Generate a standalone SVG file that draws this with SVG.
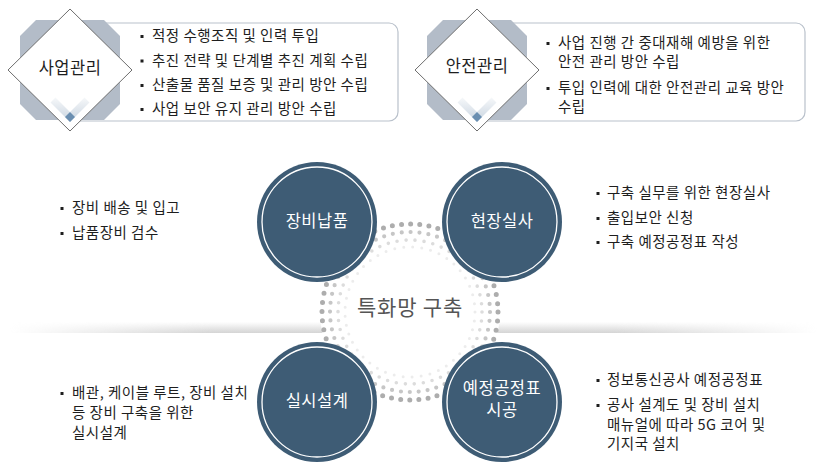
<svg xmlns="http://www.w3.org/2000/svg" width="827" height="474" viewBox="0 0 827 474">
<defs>
<style>
.t{font-family:"Noto Sans CJK KR","Noto Sans",sans-serif;font-size:14.5px;letter-spacing:0.5px;fill:#1e1e1e}
.lbl{font-family:"Noto Sans CJK KR","Noto Sans",sans-serif;font-size:16.5px;letter-spacing:0.5px;fill:#1e1e1e;text-anchor:middle}
.cl{font-family:"Noto Sans CJK KR","Noto Sans",sans-serif;font-size:16.5px;letter-spacing:0.5px;fill:#ffffff;text-anchor:middle}
.box{fill:#ffffff;stroke:#b9c1cb;stroke-width:1.2}
.oct{fill:#b3bcc8}
.dia{fill:#ffffff;stroke:#6e6e6e;stroke-width:1}
.vdec{fill:none;stroke:url(#vg);stroke-width:7}
.mini{fill:#6b8fb1}
.b{fill:#1e1e1e}
.node{fill:#3e5c75}
.ring{fill:none;stroke:#ffffff;stroke-width:1.3}
.dots{fill:none;stroke-linecap:round}
</style>
<linearGradient id="vg" gradientUnits="userSpaceOnUse" x1="0" y1="28" x2="0" y2="48">
<stop offset="0" stop-color="#f5f7f9"/>
<stop offset="1" stop-color="#d0dae4"/>
</linearGradient>
<linearGradient id="shV" x1="0" y1="0" x2="0" y2="1">
<stop offset="0" stop-color="#d4d4d4" stop-opacity="0"/>
<stop offset="1" stop-color="#d4d4d4" stop-opacity="1"/>
</linearGradient>
<linearGradient id="shH" gradientUnits="userSpaceOnUse" x1="10" y1="0" x2="817" y2="0">
<stop offset="0" stop-color="#fff" stop-opacity="0"/>
<stop offset="0.25" stop-color="#fff" stop-opacity="1"/>
<stop offset="0.75" stop-color="#fff" stop-opacity="1"/>
<stop offset="1" stop-color="#fff" stop-opacity="0"/>
</linearGradient>
<mask id="shM"><rect x="10" y="315" width="807" height="20" fill="url(#shH)"/></mask>
</defs>
<rect width="827" height="474" fill="#ffffff"/>

<!-- shadow band -->
<rect x="10" y="322" width="807" height="11" fill="url(#shV)" mask="url(#shM)"/>
<circle cx="410" cy="312" r="90" fill="#ffffff"/>

<g id="management">
<rect class="box" x="60" y="23" width="338" height="98" rx="9"/>
<g transform="translate(70,70)">
<polygon class="oct" points="-34,-50 34,-50 50,-34 50,34 34,50 -34,50 -50,34 -50,-34"/>
<polygon class="dia" points="0,-61 62,0 0,61 -62,0"/>
<polyline class="vdec" points="-17,30 0,47 17,30"/>
<polygon class="mini" points="0,42 5,47 0,52 -5,47"/>
<text class="lbl" x="0" y="4">사업관리</text>
</g>
<rect class="b" x="140.5" y="35" width="3" height="3"/>
<text class="t" x="152" y="41">적정 수행조직 및 인력 투입</text>
<rect class="b" x="140.5" y="59.5" width="3" height="3"/>
<text class="t" x="152" y="65.5">추진 전략 및 단계별 추진 계획 수립</text>
<rect class="b" x="140.5" y="84" width="3" height="3"/>
<text class="t" x="152" y="90">산출물 품질 보증 및 관리 방안 수립</text>
<rect class="b" x="140.5" y="108" width="3" height="3"/>
<text class="t" x="152" y="114">사업 보안 유지 관리 방안 수립</text>
</g>

<g id="safety">
<rect class="box" x="467" y="23" width="338" height="98" rx="9"/>
<g transform="translate(477,70)">
<polygon class="oct" points="-34,-50 34,-50 50,-34 50,34 34,50 -34,50 -50,34 -50,-34"/>
<polygon class="dia" points="0,-61 62,0 0,61 -62,0"/>
<polyline class="vdec" points="-17,30 0,47 17,30"/>
<polygon class="mini" points="0,42 5,47 0,52 -5,47"/>
<text class="lbl" x="0" y="2">안전관리</text>
</g>
<rect class="b" x="546.5" y="42" width="3" height="3"/>
<text class="t" x="558" y="48">사업 진행 간 중대재해 예방을 위한</text>
<text class="t" x="558" y="67">안전 관리 방안 수립</text>
<rect class="b" x="546.5" y="87" width="3" height="3"/>
<text class="t" x="558" y="93">투입 인력에 대한 안전관리 교육 방안</text>
<text class="t" x="558" y="112">수립</text>
</g>

<g id="connectors">
<circle class="dots" cx="410" cy="312" r="88" stroke="#adadad" stroke-width="5" stroke-dasharray="0 9.215"/>
<circle class="dots" cx="410" cy="312" r="80" stroke="#c6c6c6" stroke-width="4.2" stroke-dasharray="0 8.976"/>
<circle class="dots" cx="410" cy="312" r="72" stroke="#dcdcdc" stroke-width="3.6" stroke-dasharray="0 9.048"/>
<circle class="dots" cx="410" cy="312" r="65" stroke="#ececec" stroke-width="3" stroke-dasharray="0 9.075"/>
</g>

<g id="center">
<text x="410" y="315" style="font-family:'Noto Sans CJK KR','Noto Sans',sans-serif;font-size:21px;letter-spacing:0.8px;fill:#555555;text-anchor:middle">특화망 구축</text>
</g>

<g id="delivery">
<circle class="node" cx="317" cy="222" r="60"/>
<circle class="ring" cx="317" cy="222" r="55"/>
<text class="cl" x="317" y="227">장비납품</text>
<rect class="b" x="60.5" y="207" width="3" height="3"/>
<text class="t" x="72" y="213">장비 배송 및 입고</text>
<rect class="b" x="60.5" y="232" width="3" height="3"/>
<text class="t" x="72" y="238">납품장비 검수</text>
</g>

<g id="survey">
<circle class="node" cx="502" cy="222" r="60"/>
<circle class="ring" cx="502" cy="222" r="55"/>
<text class="cl" x="502" y="227">현장실사</text>
<rect class="b" x="596.5" y="192" width="3" height="3"/>
<text class="t" x="607" y="198">구축 실무를 위한 현장실사</text>
<rect class="b" x="596.5" y="217" width="3" height="3"/>
<text class="t" x="607" y="223">출입보안 신청</text>
<rect class="b" x="596.5" y="241" width="3" height="3"/>
<text class="t" x="607" y="247">구축 예정공정표 작성</text>
</g>

<g id="design">
<circle class="node" cx="317" cy="402" r="60"/>
<circle class="ring" cx="317" cy="402" r="55"/>
<text class="cl" x="317" y="407">실시설계</text>
<rect class="b" x="60.5" y="392" width="3" height="3"/>
<text class="t" x="72" y="398">배관, 케이블 루트, 장비 설치</text>
<text class="t" x="72" y="418">등 장비 구축을 위한</text>
<text class="t" x="72" y="438">실시설계</text>
</g>

<g id="construction">
<circle class="node" cx="502" cy="402" r="60"/>
<circle class="ring" cx="502" cy="402" r="55"/>
<text class="cl" x="502" y="394">예정공정표</text>
<text class="cl" x="502" y="416">시공</text>
<rect class="b" x="596.5" y="379" width="3" height="3"/>
<text class="t" x="607" y="385">정보통신공사 예정공정표</text>
<rect class="b" x="596.5" y="404" width="3" height="3"/>
<text class="t" x="607" y="410">공사 설계도 및 장비 설치</text>
<text class="t" x="607" y="429.5">매뉴얼에 따라 5G 코어 및</text>
<text class="t" x="607" y="449">기지국 설치</text>
</g>
</svg>
